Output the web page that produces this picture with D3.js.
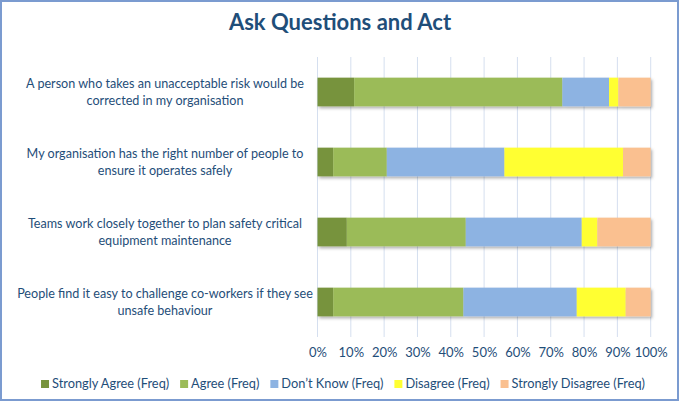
<!DOCTYPE html>
<html><head><meta charset="utf-8">
<script src="https://cdn.jsdelivr.net/npm/d3@7"></script>
<style>body{margin:0;background:#fff}svg{display:block}text{font-family:Lato,"Open Sans",sans-serif}</style>
</head><body>
<script>
const title = "Ask Questions and Act";
const categories = [
  "A person who takes an unacceptable risk would be corrected in my organisation",
  "My organisation has the right number of people to ensure it operates safely",
  "Teams work closely together to plan safety critical equipment maintenance",
  "People find it easy to challenge co-workers if they see unsafe behaviour"
];
const seriesNames = ["Strongly Agree (Freq)", "Agree (Freq)", "Don\u2019t Know (Freq)", "Disagree (Freq)", "Strongly Disagree (Freq)"];
const stronglyAgree = [11.0, 4.7, 8.8, 4.7];
const agree = [62.5, 16.1, 35.7, 39.1];
const dontKnow = [14.0, 35.3, 34.8, 34.0];
const disagree = [2.8, 35.6, 4.7, 14.7];
const stronglyDisagree = [9.7, 8.3, 16.0, 7.5];
const tickValues = [0, 0.1, 0.2, 0.3, 0.4, 0.5, 0.6, 0.7, 0.8, 0.9, 1.0];
const colors = ["#77933c", "#9bbb59", "#8db3e2", "#ffff33", "#fac090"];

const W = 680, H = 402;
const textColor = "#1f4e79";
const svg = d3.select("body").append("svg").attr("width", W).attr("height", H);
const defs = svg.append("defs");
const f = defs.append("filter").attr("id", "sh").attr("x", "-5%").attr("y", "-30%").attr("width", "110%").attr("height", "170%");
f.append("feDropShadow").attr("dx", 1.5).attr("dy", 2).attr("stdDeviation", 1.5).attr("flood-color", "#000").attr("flood-opacity", 0.3);

svg.append("rect").attr("x", 1).attr("y", 1).attr("width", W - 3).attr("height", H - 3)
  .attr("fill", "#fff").attr("stroke", "#7b9bd0").attr("stroke-width", 2);

svg.append("text").attr("x", 340).attr("y", 30).attr("text-anchor", "middle")
  .attr("font-size", 22).attr("font-weight", "bold").attr("fill", textColor).text(title);

const rows = categories.map((c, i) => ({
  cat: c,
  [seriesNames[0]]: stronglyAgree[i], [seriesNames[1]]: agree[i], [seriesNames[2]]: dontKnow[i],
  [seriesNames[3]]: disagree[i], [seriesNames[4]]: stronglyDisagree[i]
}));
const stacked = d3.stack().keys(seriesNames).offset(d3.stackOffsetExpand)(rows);

const x = d3.scaleLinear().domain([0, 1]).range([317.5, 650.7]);
const y = d3.scaleBand().domain(categories).range([57, 337]).paddingInner(0.59).paddingOuter(0.295);

// gridlines
svg.append("g").selectAll("line").data(tickValues).join("line")
  .attr("x1", d => x(d)).attr("x2", d => x(d)).attr("y1", 57).attr("y2", 337)
  .attr("stroke", "#d5dfef").attr("stroke-width", 1);

// x tick labels
const xAxis = svg.append("g").attr("transform", "translate(0,337)")
  .call(d3.axisBottom(x).tickValues(tickValues).tickFormat(d3.format(".0%")).tickSize(0).tickPadding(11));
xAxis.select(".domain").remove();
xAxis.selectAll("text").attr("font-size", 13).attr("fill", textColor).style("font-family", "Lato, sans-serif");

// bars
svg.append("g").attr("filter", "url(#sh)").selectAll("g").data(stacked).join("g")
  .attr("fill", (d, i) => colors[i])
  .selectAll("rect").data(d => d).join("rect")
  .attr("x", d => x(d[0])).attr("width", d => x(d[1]) - x(d[0]))
  .attr("y", d => y(d.data.cat)).attr("height", y.bandwidth());

// category labels with wrapping
const labelG = svg.append("g");
categories.forEach(c => {
  const t = labelG.append("text").attr("text-anchor", "middle").attr("font-size", 12.6).attr("fill", textColor);
  const words = c.split(" ");
  let lines = [], cur = [];
  const probe = labelG.append("text").attr("font-size", 12.6);
  words.forEach(w => {
    cur.push(w);
    probe.text(cur.join(" "));
    if (probe.node().getComputedTextLength() > 302 && cur.length > 1) {
      cur.pop(); lines.push(cur.join(" ")); cur = [w];
    }
  });
  lines.push(cur.join(" "));
  probe.remove();
  const cy = y(c) + y.bandwidth() / 2;
  const lh = 17;
  lines.forEach((ln, k) => {
    t.append("tspan").attr("x", 165).attr("y", cy - (lines.length - 1) * lh / 2 + k * lh).attr("dy", "0.35em").text(ln);
  });
});

// legend
const lg = svg.append("g");
let lx = 0;
seriesNames.forEach((s, i) => {
  const g = lg.append("g").attr("transform", `translate(${lx},0)`);
  g.append("rect").attr("x", 0).attr("y", -4).attr("width", 8).attr("height", 8).attr("fill", colors[i]);
  const t = g.append("text").attr("x", 11).attr("y", 0).attr("dy", "0.35em").attr("font-size", 12.8).attr("fill", textColor).text(s);
  lx += 11 + t.node().getComputedTextLength() + 11;
});
const totalW = lx - 11;
lg.attr("transform", `translate(${343 - totalW / 2},384)`);
</script>
</body></html>
